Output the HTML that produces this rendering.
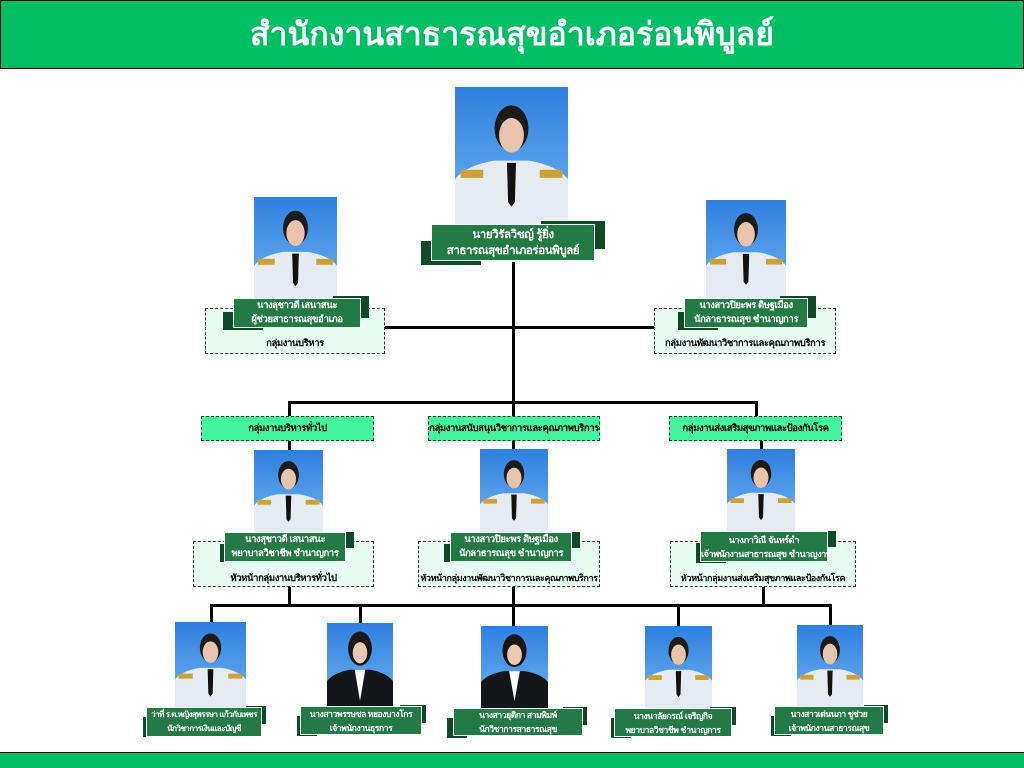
<!DOCTYPE html>
<html><head><meta charset="utf-8"><style>
body{margin:0;width:1024px;height:768px;background:#fff;position:relative;overflow:hidden;font-family:"Liberation Sans","DejaVu Sans",sans-serif}
.a{position:absolute;box-sizing:border-box}
.hdr{left:0;top:0;width:1024px;height:69px;background:#00be64;border:1px solid #000;color:#fff;font-weight:bold;font-size:32px;text-align:center;line-height:66px}
.ftr{left:0;top:752px;width:1024px;height:16px;background:#00be64;border-top:1px solid #000}
.ln{position:absolute;background:#000}
.dash{position:absolute;box-sizing:border-box;border:1px dashed #333;background:#e8fdf2;font-size:9.5px;letter-spacing:-0.4px;font-weight:bold;text-align:center;color:#000;white-space:nowrap}
.grp{position:absolute;box-sizing:border-box;border:1px dashed #333;background:#45f59e;font-size:9.5px;letter-spacing:-0.4px;font-weight:bold;text-align:center;line-height:23px;color:#000;white-space:nowrap}
.lab{position:absolute}
.lab .s1{position:absolute;background:#0d4a25}
.lab .m{position:absolute;left:0;top:0;right:0;bottom:0;background:#237a45;border:1px solid #fff;color:#fff;font-size:9.5px;letter-spacing:-0.4px;font-weight:bold;text-align:center;display:flex;flex-direction:column;justify-content:center;line-height:14px;white-space:nowrap;overflow:hidden}
.ph{position:absolute}
</style></head><body>
<svg width="0" height="0" style="position:absolute">
<defs>
<linearGradient id="bg" x1="0" y1="0" x2="0" y2="1"><stop offset="0" stop-color="#2f7fe0"/><stop offset="1" stop-color="#6fb4f0"/></linearGradient>
<symbol id="pw" viewBox="0 0 100 120" preserveAspectRatio="none"><rect width="100" height="120" fill="url(#bg)"/><path d="M0 120 L0 80 Q10 68 35 64 L65 64 Q90 68 100 80 L100 120Z" fill="#e6ebf2"/><rect x="5" y="72" width="20" height="7" fill="#c9a23a"/><rect x="75" y="72" width="20" height="7" fill="#c9a23a"/><path d="M46 66 L54 66 L53 100 L50 104 L47 100Z" fill="#111"/><ellipse cx="50" cy="36" rx="15" ry="20" fill="#1d1a1a"/><ellipse cx="50" cy="42" rx="11" ry="15" fill="#e9c4ad"/></symbol>
<symbol id="pd" viewBox="0 0 100 120" preserveAspectRatio="none"><rect width="100" height="120" fill="url(#bg)"/><path d="M0 120 L0 82 Q10 70 35 66 L65 66 Q90 70 100 82 L100 120Z" fill="#15161a"/><path d="M42 66 L58 66 L50 110Z" fill="#fff"/><ellipse cx="50" cy="36" rx="18" ry="24" fill="#1a1616"/><ellipse cx="50" cy="42" rx="11" ry="15" fill="#ecc9b3"/></symbol>
</defs></svg>

<div class="a hdr">สำนักงานสาธารณสุขอำเภอร่อนพิบูลย์</div>
<div class="a ftr"></div>

<div class="ln" style="left:512px;top:262px;width:3px;height:141px"></div>
<div class="ln" style="left:385px;top:326px;width:269px;height:3px"></div>
<div class="ln" style="left:288px;top:401px;width:469px;height:3px"></div>
<div class="ln" style="left:288px;top:401px;width:3px;height:16px"></div>
<div class="ln" style="left:512px;top:401px;width:3px;height:16px"></div>
<div class="ln" style="left:755px;top:401px;width:3px;height:16px"></div>
<div class="ln" style="left:288px;top:440px;width:3px;height:11px"></div>
<div class="ln" style="left:512px;top:440px;width:3px;height:10px"></div>
<div class="ln" style="left:760px;top:440px;width:3px;height:10px"></div>
<div class="ln" style="left:288px;top:587px;width:3px;height:19px"></div>
<div class="ln" style="left:512px;top:587px;width:3px;height:19px"></div>
<div class="ln" style="left:762px;top:587px;width:3px;height:19px"></div>
<div class="ln" style="left:210px;top:604px;width:622px;height:3px"></div>
<div class="ln" style="left:210px;top:604px;width:3px;height:19px"></div>
<div class="ln" style="left:359px;top:604px;width:3px;height:19px"></div>
<div class="ln" style="left:512px;top:604px;width:3px;height:22px"></div>
<div class="ln" style="left:677px;top:604px;width:3px;height:22px"></div>
<div class="ln" style="left:829px;top:604px;width:3px;height:21px"></div>

<svg class="ph" style="left:455px;top:87px" width="113" height="138"><use href="#pw" width="113" height="138"/></svg>
<div class="lab" style="left:431px;top:224px;width:164px;height:37px"><div class="s1" style="left:-10px;top:17px;width:60px;height:24px"></div><div class="s1" style="left:110px;top:-3px;width:64px;height:28px"></div><div class="m" style="font-size:11.5px;line-height:16px"><div>นายวิรัลวิชญ์ รู้ยิ่ง</div><div>สาธารณสุขอำเภอร่อนพิบูลย์</div></div></div>

<div class="dash" style="left:205px;top:308px;width:180px;height:46px;padding-top:27px">กลุ่มงานบริหาร</div>
<svg class="ph" style="left:254px;top:197px" width="83" height="103"><use href="#pw" width="83" height="103"/></svg>
<div class="lab" style="left:233px;top:298px;width:128px;height:30px"><div class="s1" style="left:-10px;top:14px;width:40px;height:18px"></div><div class="s1" style="left:100px;top:-2px;width:36px;height:22px"></div><div class="m"><div>นางสุชาวดี เสนาสนะ</div><div>ผู้ช่วยสาธารณสุขอำเภอ</div></div></div>

<div class="dash" style="left:654px;top:308px;width:182px;height:46px;padding-top:27px">กลุ่มงานพัฒนาวิชาการและคุณภาพบริการ</div>
<svg class="ph" style="left:706px;top:200px" width="80" height="98"><use href="#pw" width="80" height="98"/></svg>
<div class="lab" style="left:684px;top:298px;width:124px;height:30px"><div class="s1" style="left:-6px;top:14px;width:40px;height:18px"></div><div class="s1" style="left:96px;top:-2px;width:36px;height:22px"></div><div class="m"><div>นางสาวปิยะพร ดิษฐเมือง</div><div>นักสาธารณสุข ชำนาญการ</div></div></div>

<div class="grp" style="left:201px;top:416px;width:173px;height:25px">กลุ่มงานบริหารทั่วไป</div>
<div class="grp" style="left:428px;top:416px;width:172px;height:25px">กลุ่มงานสนับสนุนวิชาการและคุณภาพบริการ</div>
<div class="grp" style="left:669px;top:416px;width:173px;height:25px">กลุ่มงานส่งเสริมสุขภาพและป้องกันโรค</div>

<div class="dash" style="left:193px;top:541px;width:181px;height:46px;padding-top:29px">หัวหน้ากลุ่มงานบริหารทั่วไป</div>
<svg class="ph" style="left:254px;top:450px" width="69" height="83"><use href="#pw" width="69" height="83"/></svg>
<div class="lab" style="left:224px;top:532px;width:122px;height:30px"><div class="s1" style="left:-4px;top:12px;width:30px;height:18px"></div><div class="s1" style="left:100px;top:0px;width:30px;height:16px"></div><div class="m"><div>นางสุชาวดี เสนาสนะ</div><div>พยาบาลวิชาชีพ ชำนาญการ</div></div></div>

<div class="dash" style="left:418px;top:541px;width:182px;height:46px;padding-top:29px;font-size:9px">หัวหน้ากลุ่มงานพัฒนาวิชาการและคุณภาพบริการ</div>
<svg class="ph" style="left:480px;top:449px" width="68" height="83"><use href="#pw" width="68" height="83"/></svg>
<div class="lab" style="left:450px;top:532px;width:122px;height:30px"><div class="s1" style="left:-6px;top:12px;width:30px;height:18px"></div><div class="s1" style="left:100px;top:0px;width:30px;height:16px"></div><div class="m"><div>นางสาวปิยะพร ดิษฐเมือง</div><div>นักสาธารณสุข ชำนาญการ</div></div></div>

<div class="dash" style="left:670px;top:541px;width:186px;height:46px;padding-top:29px;font-size:9px">หัวหน้ากลุ่มงานส่งเสริมสุขภาพและป้องกันโรค</div>
<svg class="ph" style="left:727px;top:449px" width="68" height="82"><use href="#pw" width="68" height="82"/></svg>
<div class="lab" style="left:700px;top:531px;width:128px;height:31px"><div class="s1" style="left:-4px;top:12px;width:30px;height:20px"></div><div class="s1" style="left:104px;top:0px;width:32px;height:16px"></div><div class="m" style="font-size:9px"><div>นางภาวิณี จันทร์ดำ</div><div>เจ้าพนักงานสาธารณสุข ชำนาญงาน</div></div></div>

<svg class="ph" style="left:175px;top:622px" width="71" height="86"><use href="#pw" width="71" height="86"/></svg>
<svg class="ph" style="left:327px;top:623px" width="66" height="85"><use href="#pd" width="66" height="85"/></svg>
<svg class="ph" style="left:481px;top:626px" width="67" height="82"><use href="#pd" width="67" height="82"/></svg>
<svg class="ph" style="left:645px;top:626px" width="67" height="82"><use href="#pw" width="67" height="82"/></svg>
<svg class="ph" style="left:797px;top:625px" width="66" height="83"><use href="#pw" width="66" height="83"/></svg>

<div class="lab" style="left:146px;top:707px;width:116px;height:30px"><div class="s1" style="left:-3px;top:10px;width:20px;height:20px"></div><div class="s1" style="left:100px;top:-1px;width:20px;height:18px"></div><div class="m" style="font-size:8px;letter-spacing:-0.5px"><div>ว่าที่ ร.ต.หญิงสุพรรษา แก้วกับเพชร</div><div>นักวิชาการเงินและบัญชี</div></div></div>
<div class="lab" style="left:300px;top:706px;width:122px;height:29px"><div class="s1" style="left:-3px;top:10px;width:20px;height:20px"></div><div class="s1" style="left:100px;top:-1px;width:26px;height:18px"></div><div class="m" style="font-size:8.5px"><div>นางสาวพรรษชล หยองบางโกร</div><div>เจ้าพนักงานธุรการ</div></div></div>
<div class="lab" style="left:453px;top:708px;width:130px;height:28px"><div class="s1" style="left:-6px;top:10px;width:20px;height:20px"></div><div class="s1" style="left:110px;top:-1px;width:24px;height:18px"></div><div class="m" style="font-size:8.5px"><div>นางสาวยุติกา สามพิมพ์</div><div>นักวิชาการสาธารณสุข</div></div></div>
<div class="lab" style="left:614px;top:708px;width:118px;height:29px"><div class="s1" style="left:-3px;top:10px;width:20px;height:20px"></div><div class="s1" style="left:96px;top:-1px;width:26px;height:18px"></div><div class="m" style="font-size:8.5px"><div>นางนาลัยกรณ์ เจริญกิจ</div><div>พยาบาลวิชาชีพ ชำนาญการ</div></div></div>
<div class="lab" style="left:774px;top:706px;width:110px;height:29px"><div class="s1" style="left:-3px;top:10px;width:20px;height:20px"></div><div class="s1" style="left:90px;top:-1px;width:24px;height:18px"></div><div class="m" style="font-size:8.5px"><div>นางสาวเด่นนภา ชูช่วย</div><div>เจ้าพนักงานสาธารณสุข</div></div></div>
</body></html>
